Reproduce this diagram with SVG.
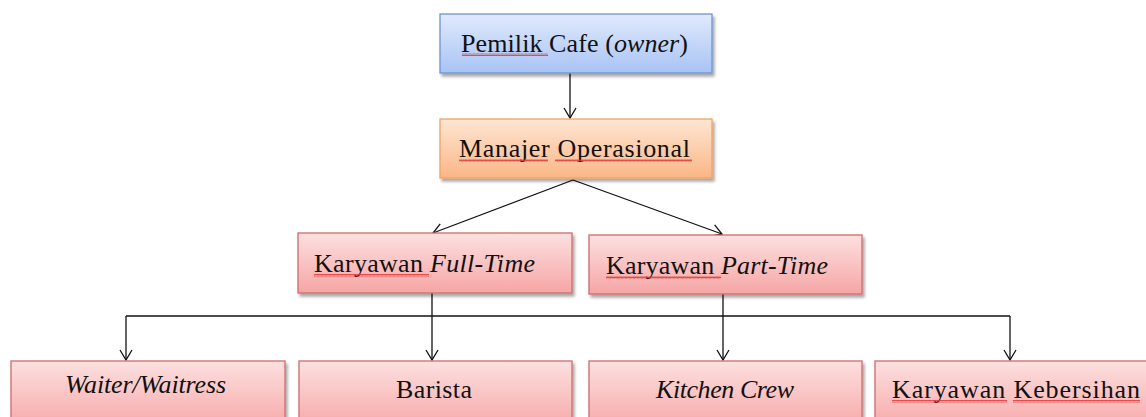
<svg xmlns="http://www.w3.org/2000/svg" width="1146" height="417" viewBox="0 0 1146 417">
<defs>
<linearGradient id="gBlue" x1="0" y1="0" x2="0" y2="1"><stop offset="0" stop-color="#e0eafc"/><stop offset="1" stop-color="#a8c3f4"/></linearGradient>
<linearGradient id="gOrange" x1="0" y1="0" x2="0" y2="1"><stop offset="0" stop-color="#fee6d3"/><stop offset="1" stop-color="#fab686"/></linearGradient>
<linearGradient id="gRed" x1="0" y1="0" x2="0" y2="1"><stop offset="0" stop-color="#fde0e0"/><stop offset="1" stop-color="#f6a5a5"/></linearGradient>
<filter id="sh" x="-5%" y="-10%" width="115%" height="130%"><feGaussianBlur in="SourceAlpha" stdDeviation="1.5"/><feOffset dx="2" dy="3"/><feComponentTransfer><feFuncA type="linear" slope="0.35"/></feComponentTransfer><feMerge><feMergeNode/><feMergeNode in="SourceGraphic"/></feMerge></filter>
<marker id="ah" markerWidth="14" markerHeight="14" refX="13" refY="7" orient="auto" markerUnits="userSpaceOnUse" viewBox="0 0 14 14"><path d="M3,1 L13,7 L3,13" fill="none" stroke="#111" stroke-width="1.3"/></marker>
<pattern id="sq" width="4" height="3" patternUnits="userSpaceOnUse"><path d="M0,2.5 L1,0.5 L2,2.5 L3,0.5 L4,2.5" fill="none" stroke="#e03030" stroke-width="0.8"/></pattern>
</defs>
<style>
.bx{stroke-width:1.3;filter:url(#sh)}
.blue{fill:url(#gBlue);stroke:#6e94d0}
.orange{fill:url(#gOrange);stroke:#f2a262}
.red{fill:url(#gRed);stroke:#cc6c6c}
text{font-family:"Liberation Serif","DejaVu Serif",serif;font-size:26px;fill:#111}
.i{font-style:italic}
.c{stroke:#111;stroke-width:1.3;fill:none}
.sq{fill:url(#sq)}
</style>
<g id="connectors">
<path class="c" d="M570,73 V118" marker-end="url(#ah)"/>
<path class="c" d="M573,180 L433,233" marker-end="url(#ah)"/>
<path class="c" d="M573,180 L722,234" marker-end="url(#ah)"/>
<path class="c" d="M126,316 H1010"/>
<path class="c" d="M126,316 V360" marker-end="url(#ah)"/>
<path class="c" d="M1010,316 V360" marker-end="url(#ah)"/>
<path class="c" d="M432,293 V360" marker-end="url(#ah)"/>
<path class="c" d="M723,294 V360" marker-end="url(#ah)"/>
</g>
<g id="owner">
<rect class="bx blue" x="440" y="14" width="272" height="59"/>
<text x="461" y="52" textLength="227">Pemilik Cafe (<tspan class="i">owner</tspan>)</text>
<rect class="sq" x="462" y="53" width="86" height="3"/>
</g>
<g id="manajer">
<rect class="bx orange" x="440" y="119" width="272" height="59"/>
<text x="459" y="157" textLength="231">Manajer Operasional</text>
<rect class="sq" x="459" y="159" width="89" height="3"/>
<rect class="sq" x="555" y="159" width="137" height="3"/>
</g>
<g id="fulltime">
<rect class="bx red" x="298" y="233" width="274" height="60"/>
<text x="314" y="272" textLength="221">Karyawan <tspan class="i">Full-Time</tspan></text>
<rect class="sq" x="314" y="274" width="115" height="3"/>
</g>
<g id="parttime">
<rect class="bx red" x="589" y="235" width="273" height="59"/>
<text x="606" y="274" textLength="222">Karyawan <tspan class="i">Part-Time</tspan></text>
<rect class="sq" x="606" y="276" width="115" height="3"/>
</g>
<g id="waiter">
<rect class="bx red" x="11" y="361" width="274" height="70"/>
<text x="65" y="393" class="i" textLength="161">Waiter/Waitress</text>
</g>
<g id="barista">
<rect class="bx red" x="299" y="361" width="273" height="70"/>
<text x="396" y="398" textLength="76">Barista</text>
</g>
<g id="kitchen">
<rect class="bx red" x="589" y="361" width="273" height="70"/>
<text x="656" y="398" class="i" textLength="138">Kitchen Crew</text>
</g>
<g id="kebersihan">
<rect class="bx red" x="875" y="361" width="285" height="70"/>
<text x="892" y="398" textLength="248">Karyawan Kebersihan</text>
<rect class="sq" x="892" y="400" width="115" height="3"/>
<rect class="sq" x="1013" y="400" width="127" height="3"/>
</g>
</svg>
